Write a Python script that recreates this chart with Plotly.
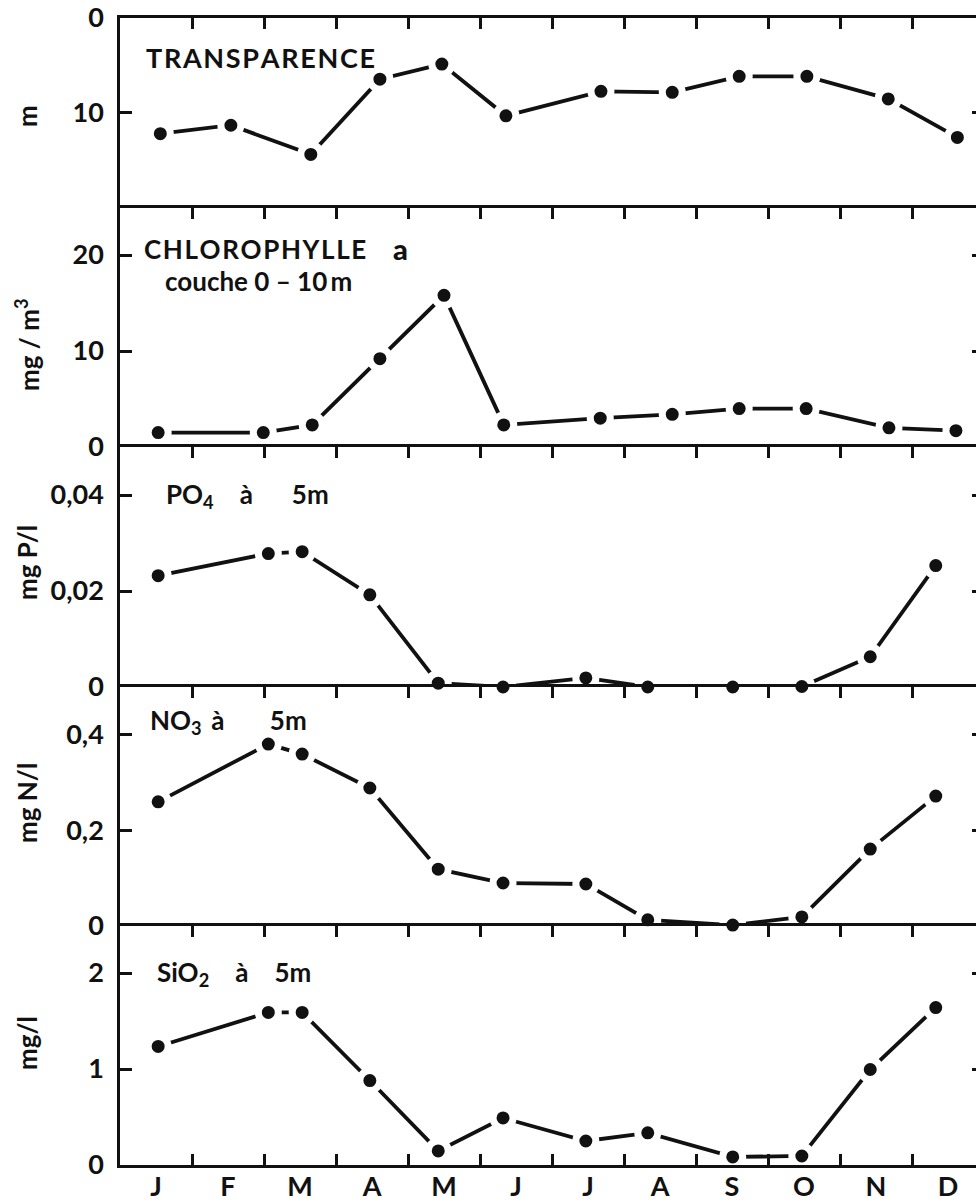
import plotly.graph_objects as go
from plotly.subplots import make_subplots

# ---------------- data ----------------
months = ["J", "F", "M", "A", "M", "J", "J", "A", "S", "O", "N", "D"]

# sampling dates, in months from 1 January
x_transparence = [0.56, 1.54, 2.65, 3.61, 4.47, 5.36, 6.68, 7.67, 8.60, 9.54, 10.67, 11.63]
transparence = [12.3, 11.4, 14.5, 6.5, 4.9, 10.4, 7.8, 7.9, 6.2, 6.2, 8.6, 12.7]

x_chloro = [0.53, 1.99, 2.67, 3.61, 4.50, 5.33, 6.67, 7.67, 8.60, 9.53, 10.68, 11.61]
chlorophylle = [1.5, 1.5, 2.3, 9.2, 15.8, 2.3, 3.0, 3.4, 4.0, 4.0, 2.0, 1.7]

x_nutr = [0.53, 2.06, 2.53, 3.47, 4.42, 5.32, 6.47, 7.33, 8.51, 9.47, 10.42, 11.33]
po4 = [0.0232, 0.0278, 0.0282, 0.0192, 0.0008, 0.0, 0.0019, 0.0, 0.0, 0.0001, 0.0063, 0.0253]
no3 = [0.26, 0.381, 0.36, 0.289, 0.119, 0.09, 0.088, 0.013, 0.002, 0.019, 0.161, 0.272]
sio2 = [1.235, 1.59, 1.59, 0.88, 0.147, 0.49, 0.25, 0.335, 0.084, 0.094, 0.995, 1.64]

# axis ticks
ticks_1 = [0, 10];          labels_1 = ["0", "10"]
ticks_2 = [0, 10, 20];      labels_2 = ["0", "10", "20"]
ticks_3 = [0, 0.02, 0.04];  labels_3 = ["0", "0,02", "0,04"]
ticks_4 = [0, 0.2, 0.4];    labels_4 = ["0", "0,2", "0,4"]
ticks_5 = [0, 1, 2];        labels_5 = ["0", "1", "2"]

# ---------------- layout geometry ----------------
W, H = 976, 1202
L, R, T, B = 120, 0, 18, 37
plot_h = H - T - B
plot_w = W - L - R
px_per_month = 72.0
x_max = plot_w / px_per_month

# panel boundaries in pixels (top of figure = 0)
bounds = [18, 208, 447, 687, 926, 1165]

def py(y):
    return (H - B - y) / plot_h

def px(x):
    return (x - L) / plot_w

FONT = "Lato"
BLACK = "#111111"

fig = make_subplots(rows=5, cols=1, shared_xaxes=False, vertical_spacing=0)

series = [
    (x_transparence, transparence),
    (x_chloro, chlorophylle),
    (x_nutr, po4),
    (x_nutr, no3),
    (x_nutr, sio2),
]
for i, (xs, ys) in enumerate(series):
    fig.add_trace(
        go.Scatter(
            x=xs, y=ys, mode="lines+markers",
            line=dict(color=BLACK, width=3.8),
            marker=dict(color=BLACK, size=20, line=dict(color="white", width=7)),
            showlegend=False, hoverinfo="skip", cliponaxis=False,
        ),
        row=i + 1, col=1,
    )

yranges = [[20.2, 0], [0, 24.9], [0, 0.05], [0, 0.5005], [0, 2.49]]
yticks = [(ticks_1, labels_1), (ticks_2, labels_2), (ticks_3, labels_3),
          (ticks_4, labels_4), (ticks_5, labels_5)]

tickfont = dict(family=FONT, size=27, color=BLACK, weight=700)
layout = {}
for i in range(5):
    n = i + 1
    suffix = "" if n == 1 else str(n)
    xname = "x" + suffix
    yname = "y" + suffix
    top, bot = bounds[i], bounds[i + 1]
    dom = [py(bot), py(top)]
    tv, tt = yticks[i]
    layout["yaxis" + suffix] = dict(
        domain=dom, range=yranges[i], tickvals=tv, ticktext=tt,
        ticks="inside", ticklen=12, tickwidth=2.5, tickcolor=BLACK,
        showline=True, linewidth=2.5, linecolor=BLACK,
        showgrid=False, zeroline=False, tickfont=tickfont,
        ticklabelstandoff=8,
    )
    # right-hand inner ticks (the right frame lies just outside the picture)
    rname = "y" + str(n + 5)
    layout["yaxis" + str(n + 5)] = dict(
        overlaying=yname, side="right", anchor=xname,
        domain=dom, range=yranges[i], tickvals=tv, showticklabels=False,
        ticks="inside", ticklen=4, tickwidth=2.5, tickcolor=BLACK,
        showline=False, showgrid=False, zeroline=False,
    )
    fig.add_trace(go.Scatter(x=[], y=[], xaxis=xname, yaxis=rname,
                             showlegend=False, hoverinfo="skip"))
    xa = dict(
        range=[0, x_max], showgrid=False, zeroline=False, domain=[0, 1],
        showline=True, linewidth=2.5, linecolor=BLACK, anchor=yname,
    )
    if n < 5:
        xa.update(side="top", tickvals=list(range(1, 12)), showticklabels=False,
                  ticks="inside", ticklen=11, tickwidth=2.5, tickcolor=BLACK)
    else:
        # month labels centred between the month-boundary ticks
        xa.update(side="bottom", mirror="ticks",
                  tickvals=[k + 0.5 for k in range(12)], ticktext=months,
                  ticks="", tickfont=dict(family=FONT, size=27, color=BLACK, weight=700),
                  ticklabelstandoff=-4,
                  minor=dict(tickvals=list(range(1, 12)), ticks="inside", ticklen=11,
                             tickwidth=2.5, tickcolor=BLACK, showgrid=False))
    layout["xaxis" + suffix] = xa

fig.update_layout(
    width=W, height=H, margin=dict(l=L, r=R, t=T, b=B, autoexpand=False),
    paper_bgcolor="white", plot_bgcolor="white", showlegend=False,
    **layout,
)

ann_font = dict(family=FONT, size=26, color=BLACK, weight=700)
hs = "\u200a"   # hair space (letter spacing)
ts = "\u2009"   # thin space
en = "\u2002"   # en space
em = "\u2003"   # em space
annotations = [
    dict(text=hs.join("TRANSPARENCE"), x=px(144), y=py(57),
         font=dict(family=FONT, size=27, color=BLACK, weight=700)),
    dict(text=hs.join("CHLOROPHYLLE"), x=px(142), y=py(249)),
    dict(text="a", x=px(391), y=py(249), font=dict(family=FONT, size=29, color=BLACK, weight=900)),
    dict(text="couche 0 \u2013 10" + ts + "m", x=px(163), y=py(281)),
    dict(text="PO<sub>4</sub>" + en + ts + ts + ts + ts + "à" + em + em + "5m", x=px(164), y=py(495)),
    dict(text="NO<sub>3</sub>" + ts + " à" + em + en + en + "5m", x=px(148), y=py(722)),
    dict(text="SiO<sub>2</sub>" + ts + ts + em + "à" + em + ts + ts + "5m", x=px(155), y=py(973)),
]
for a in annotations:
    a.setdefault("font", ann_font)
    fig.add_annotation(xref="paper", yref="paper", xanchor="left", yanchor="middle",
                       showarrow=False, **a)

ytitles = [("m", 116), ("mg / m<sup>3</sup>", 345), ("mg P/l", 563), ("mg N/l", 803), ("mg/l", 1043)]
for txt, yc in ytitles:
    fig.add_annotation(xref="paper", yref="paper", x=px(27), y=py(yc),
                       xanchor="center", yanchor="middle", textangle=-90,
                       showarrow=False, text=txt, font=ann_font)

fig.write_html("out.html")
